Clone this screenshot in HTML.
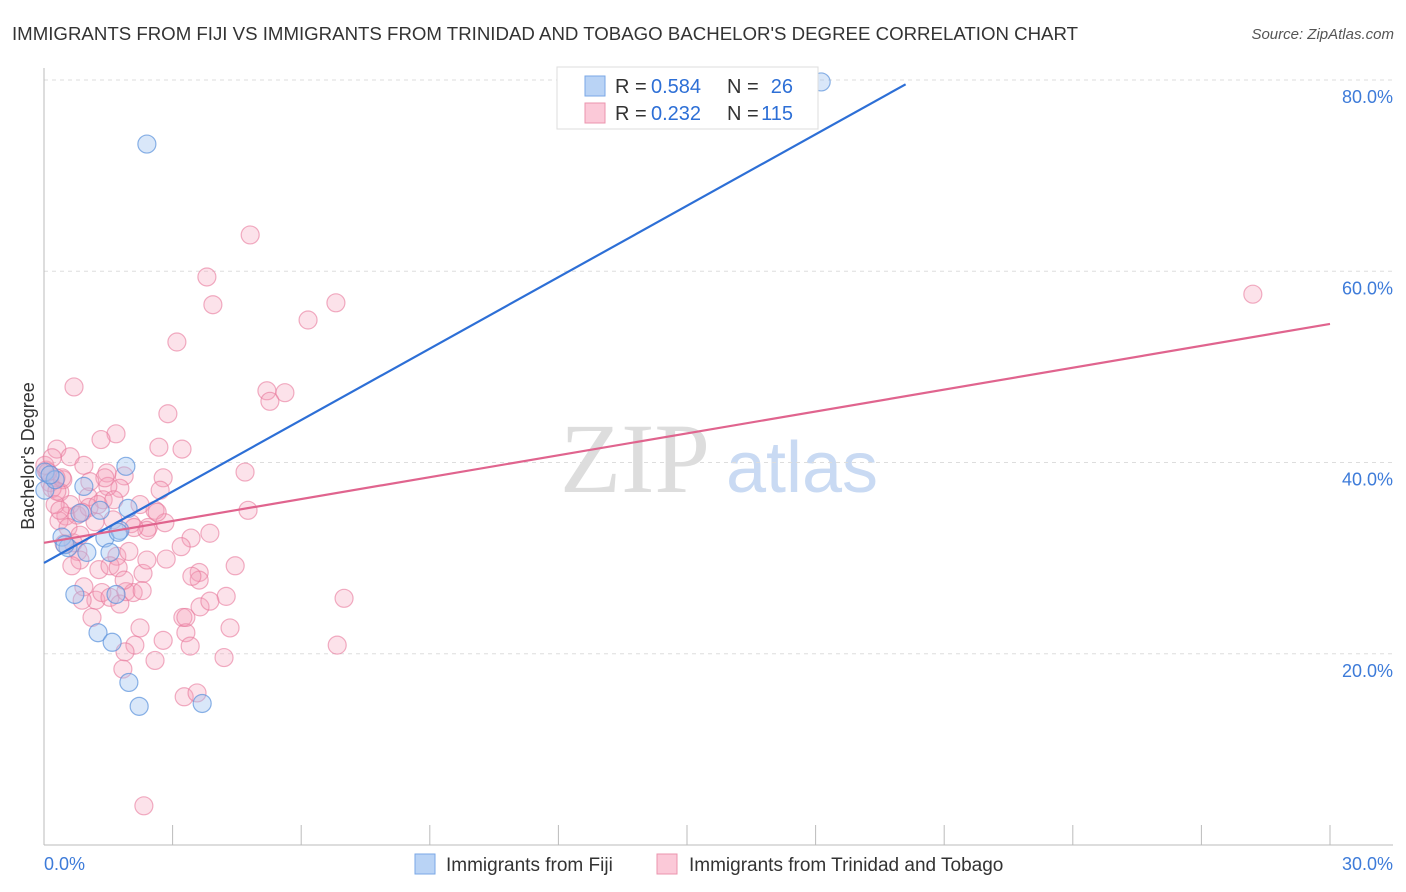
<!DOCTYPE html>
<html><head><meta charset="utf-8">
<style>
body{margin:0;background:#fff;font-family:"Liberation Sans",sans-serif;}
#wrap{position:relative;width:1406px;height:892px;overflow:hidden;}
</style></head>
<body>
<div id="wrap">
<svg id="svg" width="1406" height="892" xmlns="http://www.w3.org/2000/svg">
<text x="12" y="40" font-size="18" fill="#333" textLength="1066" lengthAdjust="spacingAndGlyphs">IMMIGRANTS FROM FIJI VS IMMIGRANTS FROM TRINIDAD AND TOBAGO BACHELOR'S DEGREE CORRELATION CHART</text>
<text x="1394" y="39" font-size="15" fill="#555" font-style="italic" text-anchor="end">Source: ZipAtlas.com</text>
<text x="635" y="492" font-size="100" fill="#ddd" font-family="Liberation Serif" text-anchor="middle">ZIP</text>
<text x="802" y="492" font-size="72" fill="#c9daf3" text-anchor="middle">atlas</text>
<text x="34" y="456" font-size="18" fill="#333" text-anchor="middle" transform="rotate(-90 34 456)">Bachelor's Degree</text>
<g id="grid"></g><g id="axes"></g><g id="pink"></g><g id="blue"></g><g id="lines"></g>
<g>
<rect x="557" y="67" width="261" height="62" fill="#fff" stroke="#ddd"/>
<rect x="585" y="76" width="20" height="20" fill="#b9d3f5" stroke="#7aa7e6"/>
<rect x="585" y="103" width="20" height="20" fill="#fbc9d8" stroke="#eb94ae"/>
<text x="615" y="93" font-size="20" fill="#333">R =</text>
<text x="651" y="93" font-size="20" fill="#2d6fd6">0.584</text>
<text x="727" y="93" font-size="20" fill="#333">N =</text>
<text x="793" y="93" font-size="20" fill="#2d6fd6" text-anchor="end">26</text>
<text x="615" y="120" font-size="20" fill="#333">R =</text>
<text x="651" y="120" font-size="20" fill="#2d6fd6">0.232</text>
<text x="727" y="120" font-size="20" fill="#333">N =</text>
<text x="793" y="120" font-size="20" fill="#2d6fd6" text-anchor="end">115</text>
</g>
<g>
<rect x="415" y="854" width="20" height="20" fill="#b9d3f5" stroke="#7aa7e6"/>
<text x="446" y="871" font-size="19" fill="#333">Immigrants from Fiji</text>
<rect x="657" y="854" width="20" height="20" fill="#fbc9d8" stroke="#eb94ae"/>
<text x="689" y="871" font-size="19" fill="#333">Immigrants from Trinidad and Tobago</text>
</g>
</svg>
</div>
<script>
const yTicks=[20,40,60,80];
const yTickLabels=["20.0%","40.0%","60.0%","80.0%"];
const xTicks=[0,3,6,9,12,15,18,21,24,27,30];
const blueX=[18.13,2.40,1.91,0.02,0.93,0.84,1.96,0.42,0.56,1.00,1.42,1.54,1.77,0.72,1.68,1.26,1.59,1.98,2.22,3.69,0.02,0.26,0.14,1.31,0.49,1.73];
const blueY=[79.8,73.3,39.6,39.0,37.5,34.7,35.2,32.2,31.1,30.6,32.1,30.6,32.9,26.2,26.2,22.2,21.2,17.0,14.5,14.8,37.1,38.2,38.7,35.0,31.4,32.7];
const pinkX=[28.2,4.81,3.80,3.94,6.16,6.81,3.10,0.70,5.20,5.62,5.27,2.89,4.69,4.76,7.00,6.84,2.33,3.27,3.57,4.20,4.34,4.46,4.25,3.87,3.43,3.20,2.85,3.22,2.68,2.78,2.71,2.59,2.43,2.31,2.40,2.24,2.12,1.89,1.84,2.59,2.78,3.24,3.31,3.41,3.31,3.62,3.62,3.64,3.87,3.45,1.68,1.33,0.30,0.61,0.93,1.47,1.87,1.77,1.49,1.38,1.03,0.37,0.44,0.05,0.14,0.28,0.61,0.51,0.35,0.77,1.05,1.19,1.61,2.03,2.40,1.70,1.98,0.68,0.79,0.84,0.65,1.28,1.54,1.73,0.93,1.21,0.89,1.35,1.54,1.77,1.91,2.08,1.12,2.82,2.29,2.10,1.26,2.24,0.02,0.09,0.19,0.26,0.47,0.56,1.42,0.89,1.87,2.64,1.07,0.37,1.63,0.19,0.42,0.84,0.30];
const pinkY=[57.6,63.8,59.4,56.5,54.9,56.7,52.6,47.9,47.5,47.3,46.4,45.1,39.0,35.0,25.8,20.9,4.1,15.5,15.9,19.6,22.7,29.2,26.0,32.6,32.1,31.2,29.9,41.4,41.6,38.4,37.1,35.0,33.2,28.4,29.8,22.7,20.9,20.2,18.4,19.3,21.4,23.8,22.2,20.8,23.8,28.5,27.7,24.9,25.5,28.1,43.0,42.4,41.4,40.6,39.7,38.9,38.6,37.3,37.5,36.1,36.4,36.9,38.2,39.2,37.9,38.4,35.6,34.4,33.9,34.5,35.3,33.8,34.0,33.6,32.9,30.2,30.7,31.6,30.7,29.8,29.2,28.8,29.2,29.0,27.0,25.6,25.6,26.4,25.9,25.2,26.5,26.4,23.8,33.7,26.6,33.2,35.6,35.6,39.7,39.0,37.3,35.6,31.5,33.2,38.4,34.8,27.7,34.8,38.0,35.0,36.1,40.5,38.4,32.4,37.0];
const blueTrend=[29.5,2.49]; // intercept, slope
const pinkTrend=[31.6,0.763];
const X=v=>44+v/30*1286, Y=v=>845-v/80*765;
const NS="http://www.w3.org/2000/svg";
function mk(tag,attrs,parent){const e=document.createElementNS(NS,tag);for(const k in attrs)e.setAttribute(k,attrs[k]);document.getElementById(parent).appendChild(e);return e;}
yTicks.forEach((t,i)=>{
 const l=mk('line',{x1:44,x2:1393,y1:Y(t),y2:Y(t),stroke:'#ddd','stroke-dasharray':'4,4'},'grid');
 
 
 const tx=mk('text',{x:1393,y:Y(t)+23,'font-size':18,fill:'#3d7bd9','text-anchor':'end'},'grid');
 tx.textContent=yTickLabels[i];
 
 
});
const ax=mk('line',{x1:44,x2:1393,y1:845,y2:845,stroke:'#bbb'},'axes');


const ay=mk('line',{x1:44,x2:44,y1:68,y2:845,stroke:'#bbb'},'axes');


xTicks.forEach(t=>{
 const l=mk('line',{x1:X(t),x2:X(t),y1:825,y2:845,stroke:'#bbb'},'axes');
 
 
});
const x0=mk('text',{x:44,y:870,'font-size':18,fill:'#3d7bd9'},'axes');x0.textContent='0.0%';


const x1=mk('text',{x:1393,y:870,'font-size':18,fill:'#3d7bd9','text-anchor':'end'},'axes');x1.textContent='30.0%';


pinkX.forEach((v,i)=>{
 const c=mk('circle',{cx:X(v),cy:Y(pinkY[i]),r:9,fill:'rgba(244,160,186,0.3)',stroke:'rgba(232,120,155,0.6)','stroke-width':1.2},'pink');
 
 
});
blueX.forEach((v,i)=>{
 const c=mk('circle',{cx:X(v),cy:Y(blueY[i]),r:9,fill:'rgba(160,196,240,0.4)',stroke:'rgba(90,145,220,0.7)','stroke-width':1.2},'blue');
 
 
});
const bl=mk('line',{x1:X(0),y1:Y(blueTrend[0]),x2:X(20.1),y2:Y(blueTrend[0]+blueTrend[1]*20.1),stroke:'#2d6fd6','stroke-width':2.2},'lines');


const pl=mk('line',{x1:X(0),y1:Y(pinkTrend[0]),x2:X(30),y2:Y(pinkTrend[0]+pinkTrend[1]*30),stroke:'#e0648e','stroke-width':2.2},'lines');


</script>
</body></html>
